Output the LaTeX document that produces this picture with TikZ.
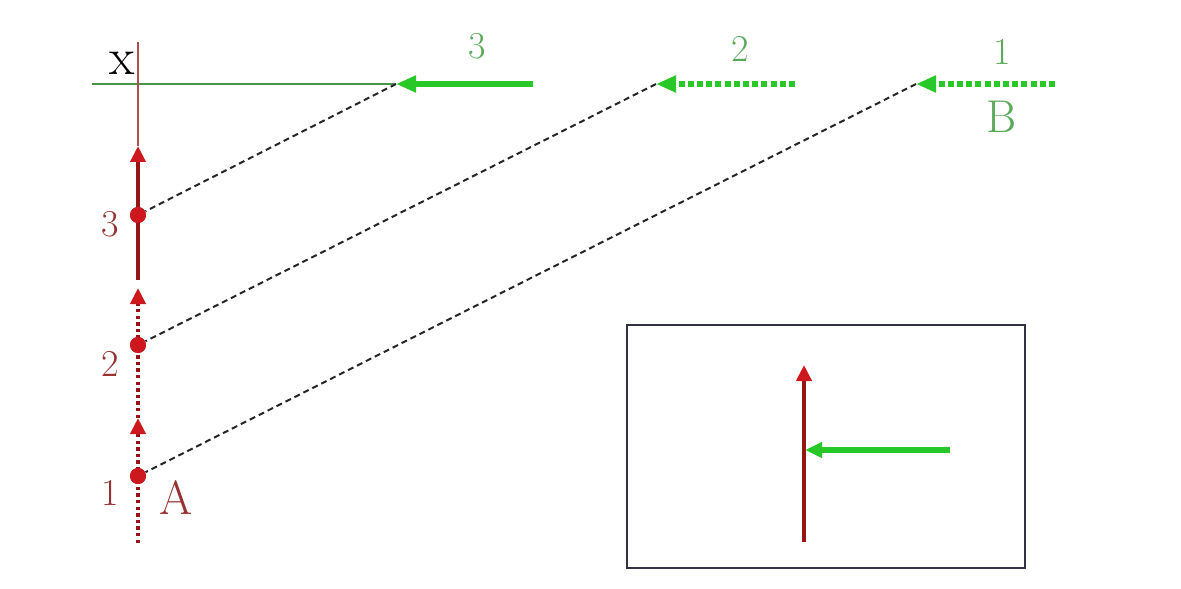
\documentclass[tikz,border=0pt]{standalone}
\usetikzlibrary{arrows.meta}
\definecolor{dred}{RGB}{150,20,20}
\definecolor{bred}{RGB}{205,25,30}
\definecolor{bgreen}{RGB}{40,200,40}
\definecolor{tgreen}{RGB}{70,150,70}
\definecolor{lgreen}{RGB}{90,170,90}
\definecolor{tred}{RGB}{175,80,80}
\definecolor{lred}{RGB}{150,50,50}
\definecolor{boxc}{RGB}{50,50,70}
\begin{document}
\begin{tikzpicture}[x=0.5pt,y=-0.5pt,
  greenarrow/.style={bgreen, line width=2.6pt, -{Triangle[length=10pt,width=8pt]}},
  greendash/.style={greenarrow, dash pattern=on 3pt off 1.6pt},
  redarrow/.style={dred, line width=2.3pt, -{Triangle[length=8pt,width=7.5pt,color=bred]}},
  reddotted/.style={redarrow, dash pattern=on 1.7pt off 1.6pt},
  blackdash/.style={black!85, line width=1pt, dash pattern=on 3pt off 2pt},
  dotnode/.style={circle, fill=bred, inner sep=0pt, minimum size=8pt},
  thinred/.style={tred, line width=0.8pt},
  thingreen/.style={tgreen, line width=0.8pt},
  glabel/.style={text=lgreen, font=\fontsize{19}{19}\selectfont},
  rlabel/.style={text=lred, font=\fontsize{19}{19}\selectfont},
  boxline/.style={boxc, line width=1pt}
]
\useasboundingbox (0,0) rectangle (1181,588);

% axes
\coordinate (vtop) at (138,42);
\coordinate (hleft) at (92,84);
\coordinate (g3) at (396,84);
\coordinate (g2) at (656,84);
\coordinate (g1) at (916,84);
\coordinate (g3s) at (533,84);
\coordinate (g2s) at (795,84);
\coordinate (g1s) at (1055,84);
\draw[thingreen] (hleft) -- (g3);
\node[font=\fontsize{26}{26}\selectfont] (xl) at (122,63) {x};

% green arrows
\draw[greenarrow] (g3s) -- (g3);
\draw[greendash] (g2s) -- (g2);
\draw[greendash] (g1s) -- (g1);
\node[glabel] (n3) at (477,46) {3};
\node[glabel] (n2) at (740,49) {2};
\node[glabel] (n1) at (1002,52) {1};
\node[text=lgreen, font=\fontsize{23}{23}\selectfont] (B) at (1002,117) {B};

% red points
\node[dotnode] (d3) at (138,215) {};
\node[dotnode] (d2) at (138,345) {};
\node[dotnode] (d1) at (138,476) {};
\coordinate (r0) at (138,543);
\coordinate (r1) at (138,418);
\coordinate (r2) at (138,288);
\coordinate (r3s) at (138,280);
\coordinate (r3) at (138,146);

\draw[thinred] (vtop) -- (r3);
\draw[reddotted] (r0) -- (r1);
\draw[reddotted] (r1) -- (r2);
\draw[redarrow] (r3s) -- (r3);

% dashed connectors
\draw[blackdash] (g3) -- (d3);
\draw[blackdash] (g2) -- (d2);
\draw[blackdash] (g1) -- (d1);

\node[dotnode] at (d3) {};
\node[dotnode] at (d2) {};
\node[dotnode] at (d1) {};

\node[rlabel] (l3) at (110,224) {3};
\node[rlabel] (l2) at (110,364) {2};
\node[rlabel] (l1) at (110,493) {1};
\node[text=lred, font=\fontsize{24}{24}\selectfont] (A) at (176,498) {A};

% inset
\draw[boxline] (627,325) rectangle (1025,568);
\coordinate (ib) at (804,542);
\coordinate (it) at (804,365);
\coordinate (gs) at (950,450);
\coordinate (ge) at (805,450);
\draw[redarrow] (ib) -- (it);
\draw[greenarrow, -{Triangle[length=8.5pt,width=7.5pt]}] (gs) -- (ge);
\end{tikzpicture}
\end{document}
